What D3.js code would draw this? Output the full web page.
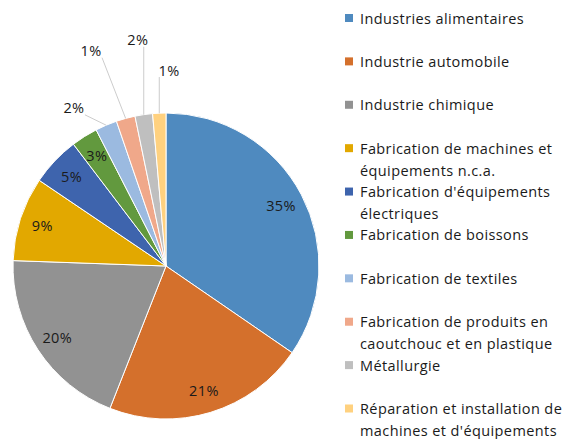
<!DOCTYPE html>
<html>
<head>
<meta charset="utf-8">
<script src="https://cdnjs.cloudflare.com/ajax/libs/d3/7.8.5/d3.min.js"></script>
<style>
  html, body { margin: 0; padding: 0; background: #fff; }
  svg text { font-family: "Open Sans", Lato, sans-serif; fill: #1a1a1a; letter-spacing: 0.4px; }
</style>
</head>
<body>
<div id="chart"></div>
<script>
// chart data
const categories = [
    "Industries alimentaires",
    "Industrie automobile",
    "Industrie chimique",
    "Fabrication de machines et\néquipements n.c.a.",
    "Fabrication d'équipements\nélectriques",
    "Fabrication de boissons",
    "Fabrication de textiles",
    "Fabrication de produits en\ncaoutchouc et en plastique",
    "Métallurgie",
    "Réparation et installation de\nmachines et d'équipements"
];
const shares = [34.6, 21.4, 19.6, 8.9, 5.2, 2.8, 2.3, 2.0, 1.85, 1.4];
const shareLabels = ["35%", "21%", "20%", "9%", "5%", "3%", "2%", "1%", "2%", "1%"];
const sliceColors = [
    "#4f8abf", "#d4702c", "#929292", "#e2a800", "#3e64ad",
    "#62993e", "#9bbae0", "#f0a88a", "#bfbfbf", "#ffd17f"
];

const width = 576, height = 439;
const cx = 166, cy = 266, radius = 153;
const fontSize = "14.5px";

const svg = d3.select("#chart").append("svg")
    .attr("width", width)
    .attr("height", height);

const pie = d3.pie().sort(null).value(d => d);
const arcs = pie(shares);

const arc = d3.arc().innerRadius(0).outerRadius(radius);
const labelArc = d3.arc().innerRadius(130).outerRadius(130);

const g = svg.append("g").attr("transform", `translate(${cx},${cy})`);

g.selectAll(".slice")
    .data(arcs)
    .enter().append("path")
    .attr("class", "slice")
    .attr("d", arc)
    .attr("fill", (d, i) => sliceColors[i])
    .attr("stroke", "#fff")
    .attr("stroke-width", 1);

// labels that fit inside the pie
const insideCount = 6;
g.selectAll(".in-label")
    .data(arcs.slice(0, insideCount))
    .enter().append("text")
    .attr("class", "in-label")
    .attr("transform", d => `translate(${labelArc.centroid(d)})`)
    .attr("text-anchor", "middle")
    .attr("dominant-baseline", "central")
    .style("font-size", fontSize)
    .text(d => shareLabels[d.index]);

// small slices: labels pulled outside with leader lines
// [angle in degrees clockwise from top, distance from centre]
const outsidePos = [[329.8, 183], [340.8, 228], [352.9, 228], [0.9, 196]];
const lw = 22, lh = 14;

arcs.slice(insideCount).forEach((d, k) => {
    const mid = (d.startAngle + d.endAngle) / 2;
    const ax = Math.sin(mid) * radius, ay = -Math.cos(mid) * radius;
    const a = outsidePos[k][0] * Math.PI / 180, r = outsidePos[k][1];
    const lx = Math.sin(a) * r, ly = -Math.cos(a) * r;
    const ex = Math.max(lx - lw / 2, Math.min(lx + lw / 2, ax));
    const ey = Math.max(ly - lh / 2, Math.min(ly + lh / 2, ay));
    g.append("line")
        .attr("x1", ax).attr("y1", ay)
        .attr("x2", ex).attr("y2", ey)
        .attr("stroke", "#bfbfbf")
        .attr("stroke-width", 0.8);
    g.append("text")
        .attr("x", lx).attr("y", ly)
        .attr("text-anchor", "middle")
        .attr("dominant-baseline", "central")
        .style("font-size", fontSize)
        .text(shareLabels[d.index]);
});

// legend
const legendY = d3.scalePoint()
    .domain(d3.range(categories.length))
    .range([18, 408.5]);

const legend = svg.selectAll(".legend")
    .data(categories)
    .enter().append("g")
    .attr("class", "legend")
    .attr("transform", (d, i) => `translate(345,${legendY(i)})`);

legend.append("rect")
    .attr("x", 0).attr("y", -4)
    .attr("width", 8).attr("height", 8)
    .attr("fill", (d, i) => sliceColors[i]);

legend.append("text")
    .attr("x", 15)
    .style("font-size", fontSize)
    .selectAll("tspan")
    .data(d => d.split("\n"))
    .enter().append("tspan")
    .attr("x", 15)
    .attr("y", (d, j) => j * 22)
    .attr("dominant-baseline", "central")
    .text(d => d);
</script>
</body>
</html>
